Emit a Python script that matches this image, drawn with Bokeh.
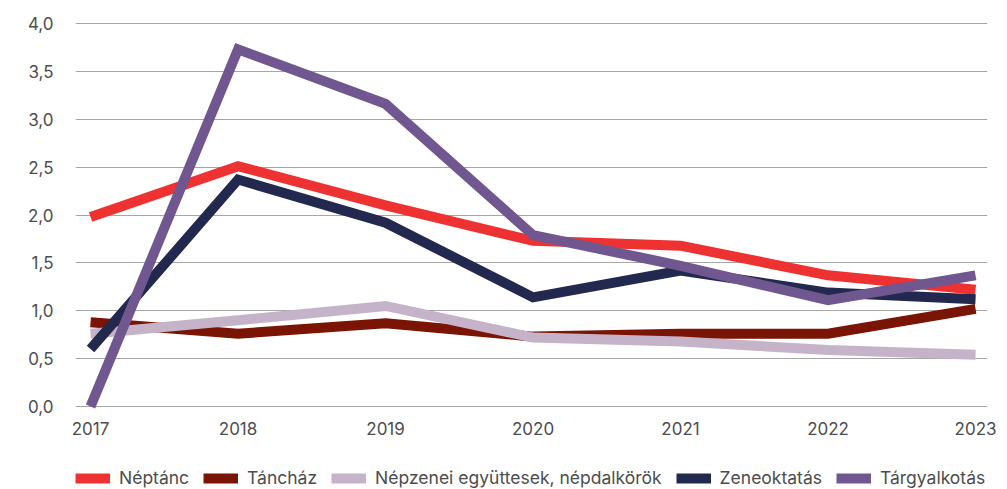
from bokeh.plotting import figure
from bokeh.models import Legend, LegendItem, FixedTicker, Range1d
from bokeh.layouts import column
from bokeh.embed import file_html
from bokeh.resources import INLINE

years = [2017, 2018, 2019, 2020, 2021, 2022, 2023]
year_labels = ["2017", "2018", "2019", "2020", "2021", "2022", "2023"]

neptanc = [1.98, 2.51, 2.10, 1.73, 1.68, 1.37, 1.22]
tanchaz = [0.88, 0.76, 0.87, 0.73, 0.76, 0.76, 1.02]
nepzenei = [0.76, 0.90, 1.05, 0.72, 0.68, 0.59, 0.54]
zeneoktatas = [0.60, 2.37, 1.92, 1.14, 1.42, 1.19, 1.12]
targyalkotas = [0.0, 3.73, 3.16, 1.79, 1.47, 1.11, 1.37]

series_names = ["Néptánc", "Táncház", "Népzenei együttesek, népdalkörök", "Zeneoktatás", "Tárgyalkotás"]
series_values = [neptanc, tanchaz, nepzenei, zeneoktatas, targyalkotas]
colors = ["#EE3232", "#7A1505", "#C5B3C9", "#23284F", "#70578F"]

y_ticks = [0.0, 0.5, 1.0, 1.5, 2.0, 2.5, 3.0, 3.5, 4.0]
y_labels = ["0,0", "0,5", "1,0", "1,5", "2,0", "2,5", "3,0", "3,5", "4,0"]

FONT = "Inter"
TXT = "#4d4d4d"

p = figure(width=1007, height=466, output_backend="svg", toolbar_location=None,
           x_range=Range1d(2016.898, 2023.081), y_range=Range1d(-0.125, 4.052),
           min_border_left=75, min_border_right=20, min_border_top=18, min_border_bottom=48)
p.outline_line_color = None
p.background_fill_color = "white"
p.border_fill_color = "white"

for name, vals, col in zip(series_names, series_values, colors):
    p.line(years, vals, line_color=col, line_width=10, line_join="miter", line_cap="butt")

p.xgrid.grid_line_color = None
p.ygrid.grid_line_color = "#a6a6a6"
p.ygrid.grid_line_width = 1

p.yaxis.ticker = FixedTicker(ticks=y_ticks)
p.yaxis.major_label_overrides = dict(zip(y_ticks, y_labels))
p.xaxis.ticker = FixedTicker(ticks=years)
p.xaxis.major_label_overrides = dict(zip(years, year_labels))

for ax in (p.xaxis[0], p.yaxis[0]):
    ax.axis_line_color = None
    ax.major_tick_line_color = None
    ax.minor_tick_line_color = None
    ax.major_tick_out = 0
    ax.major_tick_in = 0
    ax.major_label_text_font = FONT
    ax.major_label_text_font_size = "17px"
    ax.major_label_text_color = TXT
p.yaxis.major_label_standoff = 22
p.xaxis.major_label_standoff = 3

# legend strip (its frame is aligned with the main plot's frame by the column layout)
p2 = figure(width=1007, height=23, output_backend="svg", toolbar_location=None,
            x_range=Range1d(0, 1), y_range=Range1d(0, 1),
            x_axis_type=None, y_axis_type=None,
            min_border_left=0, min_border_right=0, min_border_top=0, min_border_bottom=0)
p2.outline_line_color = None
p2.xgrid.grid_line_color = None
p2.ygrid.grid_line_color = None
p2.background_fill_color = "white"
p2.border_fill_color = "white"

items = []
for name, vals, col in zip(series_names, series_values, colors):
    r = p2.line(years, vals, line_color=col, line_width=10, line_cap="butt")
    items.append(LegendItem(label=name, renderers=[r]))

legend = Legend(items=items, orientation="horizontal", location=(0, 1),
                glyph_width=35, glyph_height=12, label_standoff=9, spacing=14,
                padding=0, margin=0, background_fill_alpha=0,
                border_line_color=None,
                label_text_font=FONT, label_text_font_size="17.5px", label_text_color=TXT)
p2.add_layout(legend, "center")

open("out.html", "w").write(file_html(column(p, p2, spacing=0), INLINE))
